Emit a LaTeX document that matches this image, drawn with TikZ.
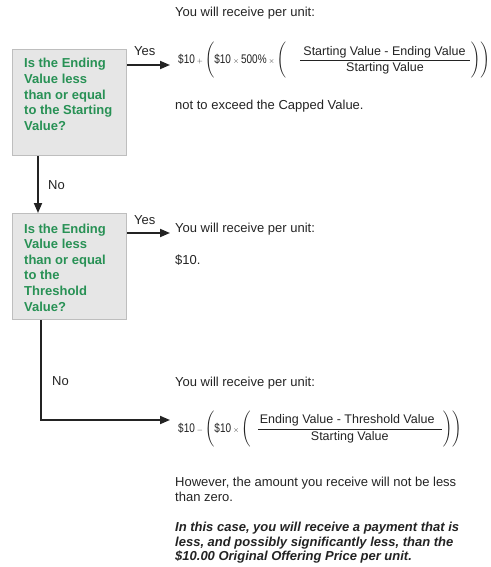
\documentclass[tikz,border=0pt]{standalone}
\usepackage{fontspec}
\setmainfont{Liberation Sans}
\usepackage{amsmath}
\usepackage{graphicx}
\usetikzlibrary{arrows.meta}
\definecolor{askgreen}{RGB}{40,145,85}
\definecolor{boxgray}{RGB}{230,230,230}
\definecolor{boxline}{RGB}{190,190,190}
\definecolor{ink}{RGB}{35,35,35}
\newcommand{\narrowtxt}[1]{\scalebox{0.8}[1]{#1}}
\newcommand{\smallop}[1]{\mathord{\scalebox{0.65}{$#1$}}}
\tikzset{
  question/.style={draw=boxline, fill=boxgray, line width=1pt, minimum width=114pt, minimum height=106pt, anchor=north west, inner sep=0pt},
  qtext/.style={anchor=north west, inner sep=0pt, align=left, text=askgreen, font=\bfseries\fontsize{13}{15.6}\selectfont},
  say/.style={anchor=west, inner sep=0pt, text=ink, font=\fontsize{13}{15}\selectfont},
  sum/.style={anchor=west, inner sep=0pt, text=ink, font=\fontsize{12.5}{15}\selectfont},
  flow/.style={draw=ink, line width=1.8pt, -{Triangle[length=10pt,width=8pt]}},
}
\begin{document}
\begin{tikzpicture}[x=1pt,y=-1pt]
\useasboundingbox (0,0) rectangle (490,567);
% first question
\node[question] (q1) at (12,49) {};
\node[qtext] (q1t) at (24,58.3) {Is the Ending\\Value less\\than or equal\\to the Starting\\Value?};
\node[say] (t1) at (175,13) {You will receive per unit:};
\node[sum] (f1) at (178,60.5) {$\narrowtxt{\$10}\,\smallop{+}\,\Bigg(\narrowtxt{\$10}\,\smallop{\times}\,\narrowtxt{500\%}\,\smallop{\times}\,\Bigg(\hspace{13pt}\dfrac{\hspace{3pt}\text{Starting Value - Ending Value}\hspace{4pt}}{\text{Starting Value}}\Bigg)\Bigg)$};
\node[say] (t2) at (175,106) {not to exceed the Capped Value.};
\node[say] (yes1) at (134,51.5) {Yes};
\node[say] (no1) at (48,185) {No};
% second question
\node[question] (q2) at (12,213) {};
\node[qtext] (q2t) at (24,223.5) {Is the Ending\\Value less\\than or equal\\to the\\Threshold\\Value?};
\node[say] (t3) at (175,229) {You will receive per unit:};
\node[say] (t4) at (175,260) {\$10.};
\node[say] (yes2) at (134,220.5) {Yes};
\node[say] (no2) at (52,381) {No};
% otherwise
\node[say] (t5) at (175,383) {You will receive per unit:};
\node[sum] (f3) at (178,429) {$\narrowtxt{\$10}\,\smallop{-}\,\Bigg(\narrowtxt{\$10}\,\smallop{\times}\,\Bigg(\hspace{6pt}\dfrac{\hspace{2pt}\text{Ending Value - Threshold Value}\hspace{7pt}}{\text{Starting Value}}\Bigg)\Bigg)$};
\node[say, anchor=north west, align=left, font=\fontsize{13}{14.5}\selectfont] (t6) at (175,477) {However, the amount you receive will not be less\\than zero.};
\node[say, anchor=north west, align=left, font=\bfseries\itshape\fontsize{13}{14.5}\selectfont] (t7) at (175,522) {In this case, you will receive a payment that is\\less, and possibly significantly less, than the\\\$10.00 Original Offering Price per unit.};
% connectors
\path[flow] ([yshift=-16pt]q1.north east) -- ([xshift=-8pt,yshift=-4.5pt]f1.west);
\path[flow] ([xshift=26pt]q1.south west) -- ([xshift=26pt]q2.north west);
\path[flow] ([yshift=-20pt]q2.north east) -- ([xshift=-5pt,yshift=-4pt]t3.west);
\path[flow] ([xshift=29pt]q2.south west) |- ([xshift=-8pt,yshift=9pt]f3.west);
\end{tikzpicture}
\end{document}
